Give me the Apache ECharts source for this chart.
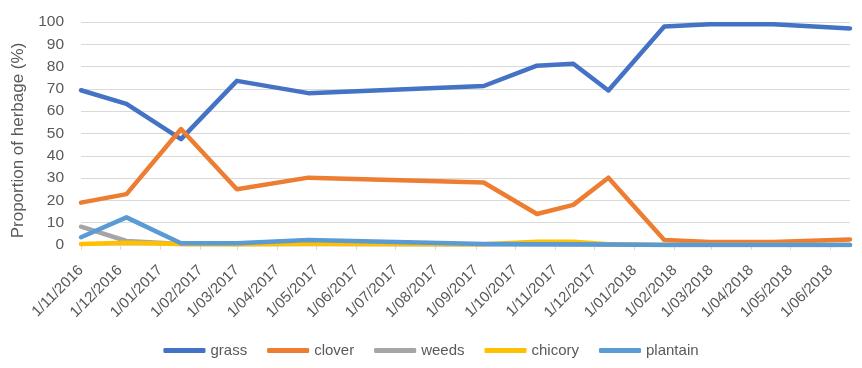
<!DOCTYPE html>
<html>
<head>
<meta charset="utf-8">
<script src="https://cdn.jsdelivr.net/npm/echarts@6/dist/echarts.min.js"></script>
<style>html,body{margin:0;padding:0;background:#fff}#c{width:862px;height:368px}</style>
</head>
<body>
<div id="c"></div>
<script>
var sampleDates = ['2016-11-01','2016-12-06','2017-01-17','2017-03-01','2017-04-25','2017-09-07','2017-10-18','2017-11-15','2017-12-12','2018-01-24','2018-02-28','2018-04-18','2018-06-16'];
var grass    = [69.4, 63.3, 47.5, 73.6, 68.1, 71.3, 80.4, 81.3, 69.3, 98.0, 99.0, 99.0, 97.1];
var clover   = [19.0, 22.8, 52.0, 25.0, 30.2, 28.0, 13.9, 18.0, 30.2, 2.2, 1.3, 1.3, 2.5];
var weeds    = [8.2, 1.8, 0.5, 0.5, 0.5, 0.3, 0.3, 0.2, 0.2, 0, 0, 0, 0];
var chicory  = [0.5, 1.0, 0.5, 0.3, 0.6, 0.3, 1.5, 1.5, 0.3, 0, 0, 0, 0];
var plantain = [3.5, 12.4, 0.8, 0.8, 2.2, 0.5, 0.3, 0.3, 0.2, 0, 0, 0, 0];
var tickDates = ['2016-11-01','2016-12-01','2017-01-01','2017-02-01','2017-03-01','2017-04-01','2017-05-01','2017-06-01','2017-07-01','2017-08-01','2017-09-01','2017-10-01','2017-11-01','2017-12-01','2018-01-01','2018-02-01','2018-03-01','2018-04-01','2018-05-01','2018-06-01'];
var tickLabels = ['1/11/2016','1/12/2016','1/01/2017','1/02/2017','1/03/2017','1/04/2017','1/05/2017','1/06/2017','1/07/2017','1/08/2017','1/09/2017','1/10/2017','1/11/2017','1/12/2017','1/01/2018','1/02/2018','1/03/2018','1/04/2018','1/05/2018','1/06/2018'];
var seriesNames = ['grass','clover','weeds','chicory','plantain'];
var seriesColors = ['#4472C4','#ED7D31','#A5A5A5','#FFC000','#5B9BD5'];
var axisMin = '2016-11-01', axisMax = '2018-06-16';

// day number (UTC-based, no timezone effects)
function dn(s){ var p = s.split('-'); return Date.UTC(+p[0], +p[1]-1, +p[2]) / 86400000; }
var tickDn = tickDates.map(dn);
var labelMap = {};
tickDn.forEach(function(t,i){ labelMap[t] = tickLabels[i]; });
var allData = [grass, clover, weeds, chicory, plantain];

var chart = echarts.init(document.getElementById('c'));
var font = 'Liberation Sans, Arial, sans-serif';
chart.setOption({
  animation: false,
  textStyle: { fontFamily: font },
  grid: { left: 81, right: 12, top: 22, bottom: 123 },
  legend: {
    bottom: 5, left: 'center',
    icon: 'roundRect', itemWidth: 42, itemHeight: 5, itemGap: 20,
    textStyle: { fontSize: 15, color: '#595959', fontFamily: font },
    data: seriesNames
  },
  xAxis: {
    type: 'value', min: dn(axisMin), max: dn(axisMax), scale: true,
    axisLine: { show: true, onZero: false, lineStyle: { color: '#d9d9d9', width: 1 } },
    axisTick: { show: true, length: 5, lineStyle: { color: '#d9d9d9' }, customValues: tickDn },
    splitLine: { show: false },
    axisLabel: {
      customValues: tickDn, rotate: 45, fontSize: 15, color: '#595959', margin: 23, fontFamily: font,
      formatter: function(v){ return labelMap[v] || ''; }
    }
  },
  yAxis: {
    type: 'value', min: 0, max: 100, interval: 10,
    name: 'Proportion of herbage (%)', nameLocation: 'middle', nameGap: 49,
    nameTextStyle: { fontSize: 17, color: '#595959', fontFamily: font, padding: [0, 14, 0, 0] },
    axisLine: { show: false }, axisTick: { show: false },
    axisLabel: { fontSize: 15.5, color: '#595959', margin: 17, fontFamily: font },
    splitLine: { lineStyle: { color: '#d9d9d9', width: 1 } }
  },
  series: seriesNames.map(function(n, i){
    return {
      name: n, type: 'line', showSymbol: false, symbol: 'none',
      color: seriesColors[i],
      lineStyle: { width: 4.5, color: seriesColors[i], cap: 'round', join: 'round' },
      data: sampleDates.map(function(d, j){ return [dn(d), allData[i][j]]; })
    };
  })
});
</script>
</body>
</html>
